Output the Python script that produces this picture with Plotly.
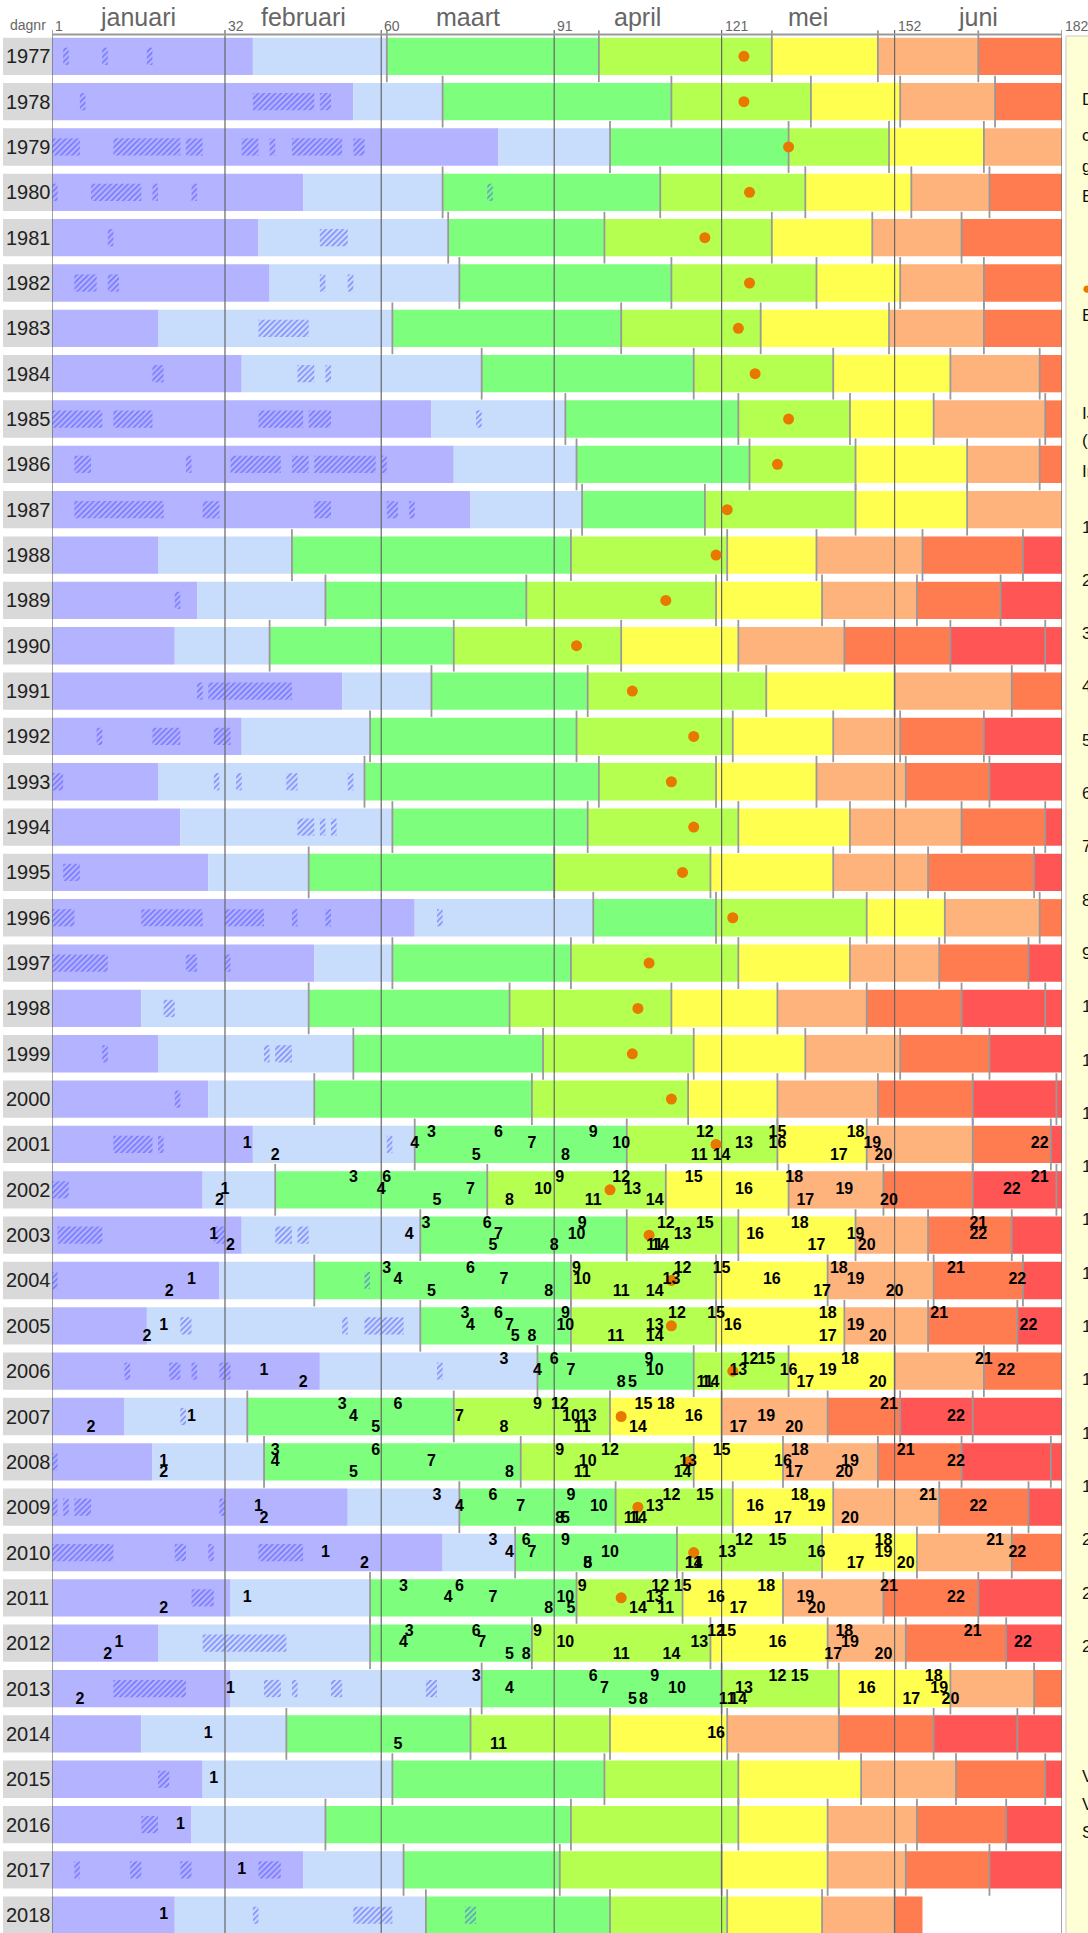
import plotly.graph_objects as go

years = list(range(1977, 2019))

# day number on which each phase after the winter rest begins (per year)
phase_starts = [
    [37, 61, 99, 130, 149, 167],            # 1977
    [55, 71, 112, 137, 153, 170],           # 1978
    [81, 101, 133, 151, 168],               # 1979
    [46, 71, 110, 136, 155, 169],           # 1980
    [38, 72, 100, 130, 148, 164],           # 1981
    [40, 74, 112, 138, 153, 168],           # 1982
    [20, 62, 103, 128, 151, 168],           # 1983
    [35, 78, 116, 141, 162, 178],           # 1984
    [69, 93, 124, 144, 159, 179],           # 1985
    [73, 95, 126, 145, 165, 178],           # 1986
    [76, 96, 118, 145, 165],                # 1987
    [20, 44, 94, 122, 138, 157, 175],       # 1988
    [27, 50, 86, 120, 139, 156, 171],       # 1989
    [23, 40, 73, 103, 124, 143, 162, 179],  # 1990
    [53, 69, 97, 129, 152, 173],            # 1991
    [35, 58, 95, 123, 141, 153, 168],       # 1992
    [20, 57, 99, 120, 138, 154, 169],       # 1993
    [24, 62, 97, 124, 144, 164, 179],       # 1994
    [29, 47, 91, 119, 141, 158, 177],       # 1995
    [66, 98, 120, 147, 161, 178],           # 1996
    [48, 62, 94, 124, 144, 160, 176],       # 1997
    [17, 47, 83, 112, 131, 147, 164, 179],  # 1998
    [20, 55, 89, 116, 136, 153, 169],       # 1999
    [29, 48, 87, 115, 131, 149, 166, 181],  # 2000
    [37, 66, 104, 131, 147, 166, 180],      # 2001
    [28, 41, 79, 111, 133, 150, 166, 181],  # 2002
    [35, 67, 104, 124, 145, 158, 173],      # 2003
    [31, 48, 94, 120, 140, 159, 175],       # 2004
    [18, 67, 94, 120, 143, 158, 174],       # 2005
    [49, 88, 116, 133, 152, 168],           # 2006
    [14, 36, 73, 101, 121, 140, 153, 166],  # 2007
    [19, 39, 85, 116, 132, 149, 164, 180],  # 2008
    [54, 74, 102, 123, 141, 160, 176],      # 2009
    [71, 84, 113, 139, 156, 173],           # 2010
    [33, 58, 95, 114, 132, 150, 167],       # 2011
    [20, 58, 87, 119, 140, 154, 172],       # 2012
    [33, 78, 121, 142, 162, 177],           # 2013
    [17, 43, 76, 101, 122, 142, 159, 174],  # 2014
    [28, 62, 100, 124, 146, 163, 179],      # 2015
    [26, 50, 94, 124, 140, 156, 172],       # 2016
    [46, 64, 92, 121, 140, 154, 169],       # 2017
    [23, 68, 101, 122, 139, 152],           # 2018
]
last_day = {2018: 157}  # all other years run to day 182

# first summer day (orange dot)
dot_day = [125, 125, 133, 126, 118, 126, 124, 127, 133, 131, 122, 120, 111, 95,
           105, 116, 112, 116, 114, 123, 108, 106, 105, 112, 120, 101, 108, 112,
           112, 123, 103, 115, 106, 116, 103, None, None, None, None, None, None, None]

# ice days (hatched): year, first day, last day
ice_days = [
    (1977, 3, 4), (1977, 10, 11), (1977, 18, 19),
    (1978, 6, 7), (1978, 37, 48), (1978, 49, 51),
    (1979, 1, 6), (1979, 12, 24), (1979, 25, 28), (1979, 35, 38), (1979, 40, 41), (1979, 44, 53), (1979, 55, 57),
    (1980, 1, 2), (1980, 8, 17), (1980, 19, 20), (1980, 26, 27), (1980, 79, 80),
    (1981, 11, 12), (1981, 49, 54),
    (1982, 5, 9), (1982, 11, 13), (1982, 49, 50), (1982, 54, 55),
    (1983, 38, 47),
    (1984, 19, 21), (1984, 45, 48), (1984, 50, 51),
    (1985, 1, 10), (1985, 12, 19), (1985, 38, 46), (1985, 47, 51), (1985, 77, 78),
    (1986, 5, 8), (1986, 25, 26), (1986, 33, 42), (1986, 44, 47), (1986, 48, 59), (1986, 60, 61),
    (1987, 5, 21), (1987, 28, 31), (1987, 48, 51), (1987, 61, 63), (1987, 65, 66),
    (1989, 23, 24),
    (1991, 27, 28), (1991, 29, 44),
    (1992, 9, 10), (1992, 19, 24), (1992, 30, 33),
    (1993, 1, 3), (1993, 30, 31), (1993, 34, 35), (1993, 43, 45), (1993, 54, 55),
    (1994, 45, 48), (1994, 49, 50), (1994, 51, 52),
    (1995, 3, 6),
    (1996, 1, 5), (1996, 17, 28), (1996, 32, 39), (1996, 44, 45), (1996, 50, 51), (1996, 70, 71),
    (1997, 1, 11), (1997, 25, 27), (1997, 32, 33),
    (1998, 21, 23),
    (1999, 10, 11), (1999, 39, 40), (1999, 41, 44),
    (2000, 23, 24),
    (2001, 12, 19), (2001, 20, 21), (2001, 61, 62),
    (2002, 1, 4),
    (2003, 2, 10), (2003, 30, 32), (2003, 41, 44), (2003, 45, 47),
    (2004, 1, 2), (2004, 57, 58),
    (2005, 24, 26), (2005, 53, 54), (2005, 57, 64),
    (2006, 14, 15), (2006, 22, 24), (2006, 26, 27), (2006, 31, 33), (2006, 70, 71),
    (2007, 24, 25),
    (2008, 1, 2),
    (2009, 1, 2), (2009, 3, 4), (2009, 5, 8), (2009, 31, 32),
    (2010, 1, 12), (2010, 23, 25), (2010, 29, 30), (2010, 38, 46),
    (2011, 26, 30),
    (2012, 28, 43),
    (2013, 12, 25), (2013, 39, 42), (2013, 44, 45), (2013, 51, 53), (2013, 68, 70),
    (2015, 20, 22),
    (2016, 17, 20),
    (2017, 5, 6), (2017, 15, 17), (2017, 24, 26), (2017, 38, 42),
    (2018, 37, 38), (2018, 55, 62), (2018, 75, 77),
]

# day of phenological events 1..22 (None = not observed)
N = None
event_days = {
    2001: [36, 41, 69, 66, 77, 81, 87, 93, 98, 103, 117, 118, 125, 121, 131, 131, 142, 145, 148, 150, N, 178],
    2002: [32, 31, 55, 60, 70, 61, 76, 83, 92, 89, 98, 103, 105, 109, 116, 125, 136, 134, 143, 151, 178, 173],
    2003: [30, 33, 68, 65, 80, 79, 81, 91, 96, 95, 109, 111, 114, 110, 118, 127, 138, 135, 145, 147, 167, 167],
    2004: [26, 22, 61, 63, 69, 76, 82, 90, 95, 96, 103, 114, 112, 109, 121, 130, 139, 142, 145, 152, 163, 174],
    2005: [21, 18, 75, 76, 84, 81, 83, 87, 93, 93, 102, 113, 109, 109, 120, 123, 140, 140, 145, 149, 160, 176],
    2006: [39, 46, 82, 88, 105, 91, 94, 103, 108, 109, 118, 126, 124, 119, 129, 133, 136, 144, 140, 149, 168, 172],
    2007: [26, 8, 53, 55, 59, 63, 74, 82, 88, 94, 96, 92, 97, 106, 107, 116, 124, 111, 129, 134, 151, 163],
    2008: [21, 21, 41, 41, 55, 59, 69, 83, 92, 97, 96, 101, 115, 114, 121, 132, 134, 135, 144, 143, 154, 163],
    2009: [38, 39, 70, 74, 93, 80, 85, 92, 94, 99, 105, 112, 109, 106, 118, 127, 132, 135, 138, 144, 158, 167],
    2010: [50, 57, 80, 83, 97, 86, 87, 97, 93, 101, 116, 125, 122, 116, 131, 138, 145, 150, 150, 154, 170, 174],
    2011: [36, 21, 64, 72, 94, 74, 80, 90, 96, 93, 111, 110, 109, 106, 114, 120, 124, 129, 136, 138, 151, 163],
    2012: [13, 11, 65, 64, 83, 77, 78, 86, 88, 93, 103, 120, 117, 112, 122, 131, 141, 143, 144, 150, 166, 175],
    2013: [33, 6, 77, 83, 105, 98, 100, 107, 109, 113, 122, 131, 125, 124, 135, 147, 155, 159, 160, 162, N, N],
    2014: [29, N, N, N, 63, N, N, N, N, N, 81, N, N, N, N, 120, N, N, N, N, N, N],
    2015: [30] + [N] * 21,
    2016: [24] + [N] * 21,
    2017: [35] + [N] * 21,
    2018: [21] + [N] * 21,
}

month_names = ["januari", "februari", "maart", "april", "mei", "juni"]
month_start = [1, 32, 60, 91, 121, 152, 182]

phase_colors = ["#b3b3ff", "#c8dcfb", "#7dff7d", "#b5ff50", "#ffff50",
                "#ffb37c", "#ff7c50", "#ff5555", "#ff5555"]

legend_head = ["De kleuren tonen de", "cumulatieve warmtesom", "gerekend vanaf 1 januari.",
               "Elke kleur = 100 graaddagen"]
legend_dot = "Eerste zomerse dag (max. 25 °C)"
legend_ice = ["IJsdagen (max. onder 0 °C)", "(gearceerd weergegeven)", "In bloei of in blad:"]
event_names = ["hazelaar bloeit", "sneeuwklokje bloeit", "klein hoefblad bloeit", "speenkruid bloeit",
               "bosanemoon bloeit", "sleedoorn bloeit", "pinksterbloem bloeit", "paardenkastanje blad",
               "zomereik blad", "fluitenkruid bloeit", "meidoorn bloeit", "vlier blad",
               "paardenkastanje bloeit", "lijsterbes bloeit", "vlier bloeit", "grote wederik",
               "robinia bloeit", "liguster bloeit", "linde bloeit", "klimop", "koninginnenkruid",
               "struikhei bloeit"]
legend_foot = ["Vrijwillige waarnemers", "Verwerking per dagnummer", "Samengesteld uit meetreeksen"]

# layout geometry (pixels)
W, H = 1088, 1933
L, R = 52, 26
ROW = 45.34
FIRST = 56.3
y_top = 1977 - FIRST / ROW
y_bot = y_top + H / ROW


def px_x(p):
    return (p - L) / (W - L - R)


def px_y(p):
    return 1 - p / H


fig = go.Figure()

# phase segments
for k, color in enumerate(phase_colors):
    ys, bases, lens = [], [], []
    for yr, starts in zip(years, phase_starts):
        edges = [1] + starts + [last_day.get(yr, 182)]
        if k < len(edges) - 1:
            ys.append(yr)
            bases.append(edges[k])
            lens.append(edges[k + 1] - edges[k])
    fig.add_trace(go.Bar(
        orientation="h", y=ys, x=lens, base=bases, width=0.823,
        marker=dict(color=color, line_width=0),
        hoverinfo="skip", showlegend=False
    ))

# ice days
fig.add_trace(go.Bar(
    orientation="h",
    y=[h[0] for h in ice_days],
    base=[h[1] for h in ice_days],
    x=[h[2] - h[1] for h in ice_days],
    width=0.38,
    marker=dict(
        color="rgba(0,0,0,0)", line_width=0,
        pattern=dict(shape="/", fgcolor="#3c3cff", bgcolor="rgba(0,0,0,0)", size=4, solidity=0.4)
    ),
    hoverinfo="skip", showlegend=False
))

# phase boundaries (from green onwards)
bx, by = [], []
for yr, starts in zip(years, phase_starts):
    for d in starts[1:]:
        bx.append(d)
        by.append(yr)
fig.add_trace(go.Scatter(
    x=bx, y=by, mode="markers",
    marker=dict(symbol="line-ns", size=37, line=dict(color="#999999", width=1.8)),
    hoverinfo="skip", showlegend=False
))

# month lines
lx, ly = [], []
for d in month_start:
    lx += [d, d, None]
    ly += [y_top + 30 / ROW, y_bot, None]
fig.add_trace(go.Scatter(
    x=lx, y=ly, mode="lines", line=dict(color="#666666", width=1.2),
    hoverinfo="skip", showlegend=False, cliponaxis=False
))

# first summer day
fig.add_trace(go.Scatter(
    x=[d for d in dot_day if d is not None],
    y=[yr for yr, d in zip(years, dot_day) if d is not None],
    mode="markers", marker=dict(color="#e87800", size=11),
    hoverinfo="skip", showlegend=False
))

# event numbers, staggered on three levels
level = {1: 0.0, 2: 0.25, 0: -0.25}
tx, ty, tt = [], [], []
for yr, days in event_days.items():
    for n, d in enumerate(days, start=1):
        if d is not None:
            tx.append(d)
            ty.append(yr + level[n % 3])
            tt.append(str(n))
fig.add_trace(go.Scatter(
    x=tx, y=ty, text=tt, mode="text", textposition="middle center",
    textfont=dict(family="Liberation Sans, Arial, sans-serif", size=16, color="black", weight="bold"),
    hoverinfo="skip", showlegend=False
))

shapes = []
annotations = []

# year labels
for yr in years:
    shapes.append(dict(type="rect", xref="paper", yref="y", x0=px_x(3), x1=px_x(52),
                       y0=yr - 0.4115, y1=yr + 0.4115, fillcolor="#d9d9d9", line_width=0))
    annotations.append(dict(xref="paper", yref="y", x=px_x(4), y=yr, text=str(yr),
                            xanchor="left", yanchor="middle", showarrow=False,
                            font=dict(family="Liberation Sans, Arial", size=20, color="#222222")))

# header
shapes.append(dict(type="line", xref="x", yref="paper", x0=1, x1=182,
                   y0=px_y(34.5), y1=px_y(34.5), line=dict(color="#999999", width=2)))
for i, name in enumerate(month_names):
    annotations.append(dict(xref="x", yref="paper", x=(month_start[i] + month_start[i + 1]) / 2,
                            y=px_y(17), text=name, showarrow=False, yanchor="middle",
                            font=dict(family="Liberation Sans, Arial", size=25, color="#666666")))
for d in month_start:
    annotations.append(dict(xref="x", yref="paper", x=d, y=px_y(26), text=str(d), showarrow=False,
                            xanchor="left", yanchor="middle", xshift=1,
                            font=dict(family="Liberation Sans, Arial", size=14, color="#666666")))
annotations.append(dict(xref="paper", yref="paper", x=px_x(8), y=px_y(25), text="dagnr",
                        showarrow=False, xanchor="left", yanchor="middle",
                        font=dict(family="Liberation Sans, Arial", size=14, color="#666666")))

# legend panel on the right (mostly outside the page)
shapes.append(dict(type="rect", xref="paper", yref="paper", x0=px_x(1066), x1=px_x(1300),
                   y0=px_y(1940), y1=px_y(36), fillcolor="#ffffd6",
                   line=dict(color="#c8c8c8", width=1)))
legend_font = dict(family="Liberation Sans, Arial", size=17, color="#111111")


def legend_line(text, ypix, color=None, xpix=1080):
    f = dict(legend_font)
    if color:
        f["color"] = color
    annotations.append(dict(xref="paper", yref="paper", x=px_x(xpix), y=px_y(ypix), text=text,
                            showarrow=False, xanchor="left", yanchor="middle", font=f))


for i, t in enumerate(legend_head):
    legend_line(t, [100, 136, 167, 197][i])
legend_line("●", 288, "#e87800", xpix=1080)
legend_line(legend_dot, 316)
for i, t in enumerate(legend_ice):
    legend_line(t, [414, 441, 471][i])
for i, t in enumerate(event_names):
    legend_line(f"{i + 1}  {t}", 527 + 53.3 * i)
for i, t in enumerate(legend_foot):
    legend_line(t, 1776 + 28 * i)

fig.update_layout(
    width=W, height=H,
    margin=dict(l=L, r=R, t=0, b=0),
    paper_bgcolor="white", plot_bgcolor="white",
    barmode="overlay", showlegend=False,
    xaxis=dict(range=[1, 182], visible=False, fixedrange=True),
    yaxis=dict(range=[y_bot, y_top], visible=False, fixedrange=True),
    shapes=shapes, annotations=annotations,
)

fig.write_html("out.html", config={"displayModeBar": False},
               post_script="document.body.style.margin='0';")
